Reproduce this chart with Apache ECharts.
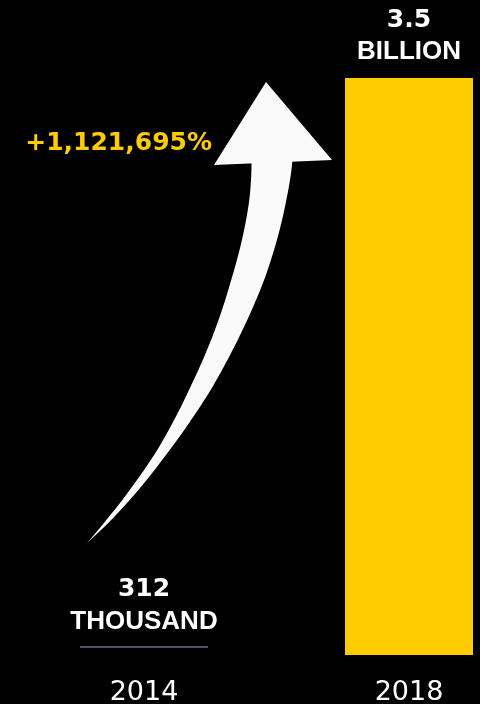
<!DOCTYPE html>
<html>
<head>
<meta charset="utf-8">
<script src="https://cdn.jsdelivr.net/npm/echarts@6/dist/echarts.min.js"></script>
<style>html,body{margin:0;padding:0;background:#000;}#c{width:480px;height:704px;}</style>
</head>
<body>
<div id="c"></div>
<script>
// Data (values in billions of users)
var years = ['2014', '2018'];
var values = [0.000312, 3.5];
var valueLabels = ['312', '3.5'];
var unitLabels = ['THOUSAND', 'BILLION'];
var changeLabel = '+1,121,695%';

var YELLOW = '#ffcc00';
var chart = echarts.init(document.getElementById('c'));

var labelDist = [17, 10];
var barData = values.map(function (v, i) {
  return {
    value: v,
    label: {
      show: true,
      position: 'top',
      distance: labelDist[i],
      formatter: '{n|' + valueLabels[i] + '}\n{w|' + unitLabels[i] + '}'
    }
  };
});

// decorative arrow shaft: smooth centre curve with tapering width
var C = [[272,160],[268,260],[205,425],[87,543]];
var widthAt = [[160,41],[200,37],[240,35],[280,33],[336,27],[388,22],[420,17],[453,12],[487,9],[520,5],[543,0]];
function wAt(y) {
  for (var i = 0; i < widthAt.length - 1; i++) {
    var a = widthAt[i], b = widthAt[i + 1];
    if (y <= b[0]) return a[1] + (b[1] - a[1]) * Math.max(0, (y - a[0])) / (b[0] - a[0]);
  }
  return 0;
}
var leftPts = [], rightPts = [];
for (var k = 0; k <= 60; k++) {
  var t = k / 60, u = 1 - t;
  var x = u*u*u*C[0][0] + 3*u*u*t*C[1][0] + 3*u*t*t*C[2][0] + t*t*t*C[3][0];
  var y = u*u*u*C[0][1] + 3*u*u*t*C[1][1] + 3*u*t*t*C[2][1] + t*t*t*C[3][1];
  var w = wAt(y) / 2;
  leftPts.push([x - w, y]);
  rightPts.unshift([x + w, y]);
}
var shaft = leftPts.concat(rightPts);

chart.setOption({
  backgroundColor: '#000',
  animation: false,
  grid: { left: 144, right: 71, top: 78, bottom: 49, outerBoundsMode: 'none', containLabel: false },
  xAxis: {
    type: 'category',
    data: years,
    boundaryGap: false,
    axisLine: { show: false },
    axisTick: { show: false },
    axisLabel: {
      color: '#fff',
      fontFamily: 'DejaVu Sans',
      fontSize: 27,
      margin: 24
    }
  },
  yAxis: { type: 'value', min: 0, max: 3.5, show: false, splitLine: { show: false } },
  series: [
    {
      type: 'bar',
      data: barData,
      barWidth: 128,
      itemStyle: { color: YELLOW },
      label: {
        color: '#fff',
        lineHeight: 32,
        rich: {
          n: { fontFamily: 'DejaVu Sans', fontWeight: 'bold', fontSize: 25, color: '#fff', lineHeight: 32 },
          w: { fontFamily: 'Liberation Sans', fontWeight: 'bold', fontSize: 26, color: '#fff', lineHeight: 32 }
        }
      }
    },
    {
      type: 'custom',
      data: [[0, values[0]]],
      renderItem: function (params, api) {
        var p = api.coord([api.value(0), api.value(1)]);
        return {
          type: 'line',
          shape: { x1: p[0] - 64, y1: p[1] - 8, x2: p[0] + 64, y2: p[1] - 8 },
          style: { stroke: '#4b5365', lineWidth: 2 }
        };
      },
      silent: true,
      z: 3
    }
  ],
  graphic: [
    {
      type: 'polygon',
      shape: { points: shaft },
      style: { fill: '#fafafa' },
      z: 5
    },
    {
      type: 'polygon',
      shape: { points: [[266, 82], [332, 160], [214, 165]] },
      style: { fill: '#fafafa' },
      z: 5
    },
    {
      type: 'text',
      x: 212,
      y: 143,
      style: {
        text: changeLabel,
        fill: YELLOW,
        font: 'bold 25px "DejaVu Sans"',
        textAlign: 'right',
        textVerticalAlign: 'middle'
      },
      z: 5
    }
  ]
});
</script>
</body>
</html>
